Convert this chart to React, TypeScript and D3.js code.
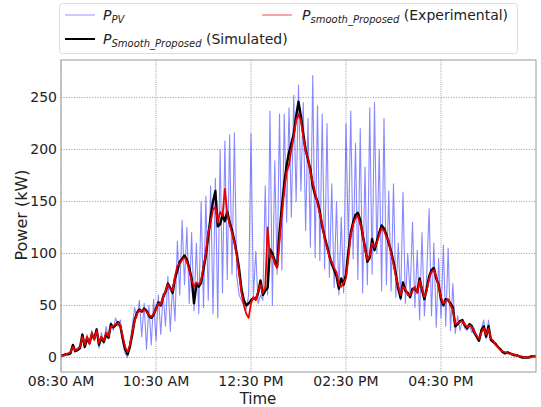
import React from 'react';
import * as d3 from 'd3';

// sampled every 3 minutes from 08:30 AM
const START = new Date(2020, 0, 1, 8, 30);
const STEP_MIN = 3;

const pvPower = [
  2, 3, 4, 3, 6, 10, 7, 9, 12, 20,
  14, 22, 12, 26, 16, 28, 9, 24, 13, 30,
  18, 34, 26, 38, 30, 36, 14, 4, 0, 14,
  30, 48, 38, 55, 20, 52, 8, 50, 12, 56,
  16, 60, 22, 62, 30, 78, 25, 70, 35, 112,
  60, 132, 70, 125, 52, 120, 45, 110, 42, 150,
  48, 155, 55, 165, 42, 172, 38, 200, 62, 208,
  75, 214, 80, 216, 78, 60, 55, 50, 46, 60,
  215, 58, 102, 52, 60, 55, 165, 60, 237, 50,
  189, 80, 234, 84, 234, 130, 240, 135, 252, 150,
  262, 160, 245, 122, 230, 106, 271, 96, 242, 93,
  234, 85, 225, 77, 167, 67, 150, 60, 135, 62,
  225, 110, 237, 95, 206, 75, 220, 62, 183, 70,
  240, 80, 245, 100, 200, 64, 230, 70, 160, 64,
  167, 58, 110, 55, 159, 52, 100, 60, 130, 48,
  103, 36, 120, 40, 80, 143, 40, 110, 29, 95,
  38, 108, 30, 105, 26, 71, 23, 40, 26, 35,
  28, 26, 30, 24, 28, 20, 16, 28, 36, 18,
  36, 16, 14, 12, 10, 8, 5, 4, 5, 4,
  3, 2, 2, 1, 0, 0, 0, 0, 1, 1,
  1,
];

const simulated = [
  2, 2, 3, 3, 4, 12, 6, 7, 9, 22,
  10, 18, 14, 22, 18, 27, 12, 19, 15, 22,
  19, 32, 29, 31, 34, 30, 18, 8, 3, 10,
  22, 36, 43, 46, 44, 47, 45, 40, 38, 41,
  47, 53, 50, 58, 63, 71, 67, 62, 76, 84,
  92, 95, 98, 94, 86, 76, 52, 70, 68, 72,
  85, 98, 117, 135, 150, 160, 126, 128, 137, 131,
  140, 130, 122, 112, 100, 85, 65, 55, 50, 52,
  55, 57, 56, 62, 74, 60, 64, 67, 104, 100,
  93, 87, 120, 145, 167, 185, 197, 206, 215, 232,
  246, 232, 215, 200, 190, 181, 165, 156, 150, 140,
  126, 116, 107, 98, 90, 84, 78, 66, 76, 70,
  80, 102, 120, 130, 137, 139, 132, 118, 106, 92,
  96, 114, 103, 112, 120, 127, 124, 118, 110, 102,
  92, 80, 66, 57, 72, 64, 62, 58, 66, 66,
  63, 76, 65, 56, 66, 78, 84, 86, 76, 70,
  56, 50, 56, 55, 52, 48, 30, 32, 35, 36,
  31, 28, 32, 30, 24, 20, 16, 26, 30, 20,
  30, 17, 15, 13, 10, 8, 5, 4, 5, 4,
  3, 2, 2, 1, 0, 0, 0, 0, 1, 1,
  1,
];

const experimental = [
  1, 2, 3, 4, 5, 10, 7, 8, 10, 20,
  12, 20, 13, 24, 17, 26, 14, 20, 16, 24,
  20, 30, 30, 32, 33, 31, 20, 10, 5, 12,
  24, 35, 42, 45, 45, 46, 44, 41, 39, 42,
  46, 52, 51, 57, 64, 70, 66, 64, 78, 88,
  90, 94, 96, 92, 84, 74, 68, 72, 70, 74,
  88, 100, 120, 130, 142, 145, 130, 140, 136, 162,
  138, 128, 120, 110, 98, 80, 62, 50, 42, 38,
  52, 58, 55, 64, 70, 62, 68, 125, 96, 98,
  90, 86, 112, 138, 160, 178, 185, 200, 212, 228,
  234, 228, 212, 198, 192, 178, 168, 158, 148, 138,
  128, 114, 106, 96, 92, 86, 82, 70, 68, 72,
  76, 96, 118, 128, 134, 136, 128, 120, 104, 94,
  98, 110, 106, 110, 118, 124, 122, 116, 112, 100,
  90, 78, 68, 60, 68, 66, 60, 60, 64, 68,
  62, 74, 66, 58, 64, 76, 82, 84, 78, 68,
  58, 52, 54, 56, 50, 46, 32, 33, 34, 35,
  32, 29, 31, 29, 25, 21, 18, 24, 28, 22,
  28, 18, 16, 12, 10, 7, 6, 5, 4, 4,
  3, 3, 2, 1, 1, 0, 0, 0, 0, 1,
  1,
];

const yTicks = [0, 50, 100, 150, 200, 250];
const xTickHours = [8, 10, 12, 14, 16]; // each at :30

const W = 541;
const H = 407;
const left = 61, right = 536, top = 60, bottom = 372;
const FONT = 'DejaVu Sans, sans-serif';

const timeAt = (i: number) => new Date(START.getTime() + i * STEP_MIN * 60000);

const App = () => {
  const x = d3.scaleTime()
    .domain([START, new Date(2020, 0, 1, 18, 30)])
    .range([left, right]);
  const y = d3.scaleLinear().domain([-14, 286]).range([bottom, top]);

  const line = d3.line<number>()
    .x((d, i) => x(timeAt(i)))
    .y((d) => y(d));

  const fmt = d3.timeFormat('%I:%M %p');
  const xTicks = xTickHours.map((h) => new Date(2020, 0, 1, h, 30));

  return (
    <svg width={W} height={H} style={{ position: 'absolute', left: 0, top: 0 }} fontFamily={FONT}>
      <rect x={0} y={0} width={W} height={H} fill="#fff" />
      {/* grid */}
      {yTicks.map((t) => (
        <line key={'gy' + t} x1={left} x2={right} y1={y(t)} y2={y(t)}
          stroke="#777" strokeWidth={0.8} strokeDasharray="1,1.6" />
      ))}
      {xTicks.map((t, i) => (
        <line key={'gx' + i} x1={x(t)} x2={x(t)} y1={top} y2={bottom}
          stroke="#888" strokeWidth={0.8} strokeDasharray="1,1.2" />
      ))}
      <defs>
        <clipPath id="plotclip">
          <rect x={left} y={top} width={right - left} height={bottom - top} />
        </clipPath>
      </defs>
      <g clipPath="url(#plotclip)" fill="none" strokeLinejoin="round">
        <path d={line(pvPower) || ''} stroke="#3a3aff" strokeOpacity={0.6} strokeWidth={1.1} />
        <path d={line(simulated) || ''} stroke="#000" strokeWidth={2.4} />
        <path d={line(experimental) || ''} stroke="#ee0000" strokeWidth={1.8} />
      </g>
      <rect x={left} y={top} width={right - left} height={bottom - top}
        fill="none" stroke="#999" strokeWidth={1} />
      {/* y ticks */}
      {yTicks.map((t) => (
        <text key={'ty' + t} x={57} y={y(t)} dy="0.35em" textAnchor="end" fontSize={14} fill="#222">{t}</text>
      ))}
      {xTicks.map((t, i) => (
        <text key={'tx' + i} x={x(t)} y={386} textAnchor="middle" fontSize={14} fill="#222">{fmt(t)}</text>
      ))}
      <text x={258} y={403.5} textAnchor="middle" fontSize={15} fill="#222">Time</text>
      <text transform={`translate(27,215) rotate(-90)`} textAnchor="middle" fontSize={16} fill="#222">Power (kW)</text>
      {/* legend */}
      <rect x={59.5} y={3.5} width={458} height={50} rx={3} fill="#fff" stroke="#ddd" strokeWidth={1} />
      <line x1={65} x2={95} y1={15} y2={15} stroke="#3a3aff" strokeOpacity={0.55} strokeWidth={1} />
      <text x={103} y={20} fontSize={14} fill="#222">
        <tspan fontStyle="italic">P</tspan>
        <tspan fontStyle="italic" fontSize={10} dy={3}>PV</tspan>
      </text>
      <line x1={65} x2={95} y1={39} y2={39} stroke="#000" strokeWidth={2} />
      <text x={103} y={44} fontSize={14} fill="#222">
        <tspan fontStyle="italic">P</tspan>
        <tspan fontStyle="italic" fontSize={10} dy={3}>Smooth_Proposed</tspan>
        <tspan dy={-3}> (Simulated)</tspan>
      </text>
      <line x1={262} x2={292} y1={15} y2={15} stroke="#ee0000" strokeOpacity={0.7} strokeWidth={1} />
      <text x={302} y={20} fontSize={14} fill="#222">
        <tspan fontStyle="italic">P</tspan>
        <tspan fontStyle="italic" fontSize={10} dy={3}>smooth_Proposed</tspan>
        <tspan dy={-3}> (Experimental)</tspan>
      </text>
    </svg>
  );
};

export default App;
